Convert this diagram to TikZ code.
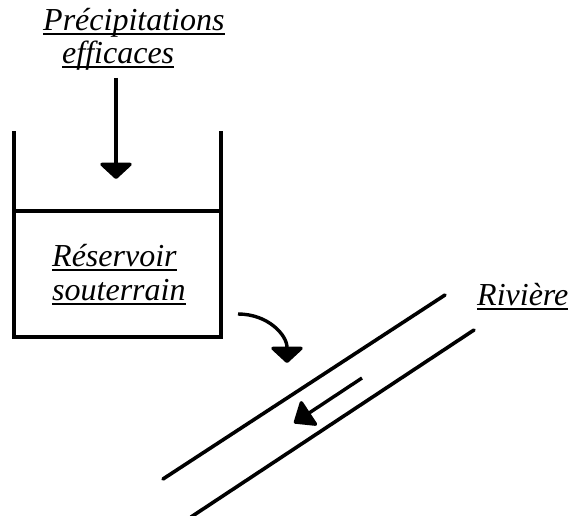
\documentclass[tikz,border=0pt]{standalone}
\usepackage{fontspec}
\setmainfont{Liberation Serif}
\usetikzlibrary{arrows.meta}
\newcommand\ulword[1]{\setbox0\hbox{#1}\rlap{\rule[-4.5pt]{\wd0}{2pt}}\box0}
\begin{document}
\begin{tikzpicture}[x=1pt,y=-1pt,
  lbl/.style={anchor=base west, inner sep=0pt, font=\fontsize{32}{33}\selectfont\itshape},
  wall/.style={line width=3.4pt},
  flow/.style={line width=3.4pt, -{Triangle[width=36pt,length=17pt,round]}},
  bank/.style={line width=3.6pt, line cap=round}]
\useasboundingbox (0,0) rectangle (575,516);
% labels
\node[lbl] (prec1) at (43,31) {\ulword{Précipitations}};
\node[lbl] (prec2) at (62,64) {\ulword{efficaces}};
\node[lbl] (res1) at (52,266) {\ulword{Réservoir}};
\node[lbl] (res2) at (52,300) {\ulword{souterrain}};
\node[lbl] (riv) at (477,305) {\ulword{Rivière}};
% reservoir
\draw[wall] (14,131) -- (14,337) -- (221,337) -- (221,131);
\draw[wall] (14,211) -- (221,211);
% river banks
\coordinate (b1a) at (163,479);
\coordinate (b1b) at (445,295);
\coordinate (b2a) at (474,330);
\coordinate (b2b) at (191,517);
\draw[bank] (b1a) -- (b1b);
\draw[bank] (b2a) -- (b2b);
% arrows
\coordinate (p0) at (116,78);
\coordinate (p1) at (116,179);
\draw[flow] (p0) -- (p1);
\coordinate (q0) at (238,314);
\coordinate (q1) at (287,363);
\draw[flow] (q0) .. controls (268,314) and (287,335) .. (q1);
\coordinate (r0) at (362,378);
\coordinate (r1) at (294,423);
\draw[line width=3.4pt, -{Triangle[width=32pt,length=20pt,round]}] (r0) -- (r1);
\end{tikzpicture}
\end{document}
